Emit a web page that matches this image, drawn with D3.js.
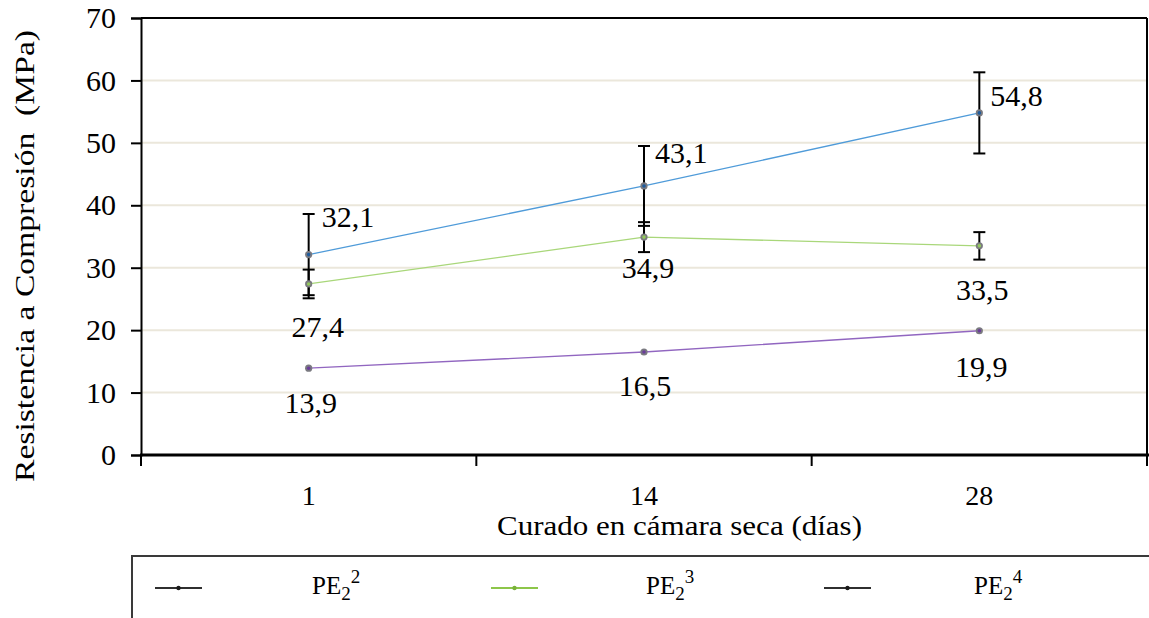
<!DOCTYPE html>
<html>
<head>
<meta charset="utf-8">
<script src="https://cdn.jsdelivr.net/npm/d3@7"></script>
<style>
  html, body { margin: 0; padding: 0; background: #fff; }
  svg { display: block; }
  svg text { font-family: "Liberation Serif", "Times New Roman", serif; }
</style>
</head>
<body>
<svg id="chart" width="1149" height="618"></svg>
<script>
// Curing age (days) in the dry chamber
const days = ["1", "14", "28"];

// Mean compressive strength (MPa) per mix
const pe22 = [32.1, 43.1, 54.8];
const pe23 = [27.4, 34.9, 33.5];
const pe24 = [13.9, 16.5, 19.9];

// Standard deviation (MPa) shown as error bars
const pe22Err = [6.5, 6.4, 6.5];
const pe23Err = [2.3, 2.4, 2.2];

const yTicks = [0, 10, 20, 30, 40, 50, 60, 70];
const legendNames = ["2", "3", "4"]; // superscript of PE₂ⁿ

const SERIF = "'Liberation Serif', 'Times New Roman', serif";
const svg = d3.select("#chart");
const W = 1149, H = 618;
const plot = { left: 141, right: 1147, top: 18, bottom: 455 };

const x = d3.scaleBand().domain(days).range([plot.left, plot.right]).padding(0);
const y = d3.scaleLinear().domain([0, 70]).range([plot.bottom, plot.top]);
const cx = d => x(d) + x.bandwidth() / 2;

const series = [
  { name: "PE2^2", values: pe22, err: pe22Err, line: "#4f9bd9", dot: "#1e5b9c" },
  { name: "PE2^3", values: pe23, err: pe23Err, line: "#a9d77a", dot: "#93c95c" },
  { name: "PE2^4", values: pe24, err: null,    line: "#9166c0", dot: "#6b3d9a" }
];

// horizontal gridlines
svg.append("g")
  .selectAll("line")
  .data(yTicks.filter(t => t > 0 && t < 70))
  .join("line")
  .attr("x1", plot.left).attr("x2", plot.right)
  .attr("y1", d => y(d)).attr("y2", d => y(d))
  .attr("stroke", "#ebe7db").attr("stroke-width", 2);

// frame: top and right edges
svg.append("line")
  .attr("x1", plot.left).attr("x2", plot.right)
  .attr("y1", plot.top).attr("y2", plot.top)
  .attr("stroke", "#000").attr("stroke-width", 2);
svg.append("line")
  .attr("x1", plot.right).attr("x2", plot.right)
  .attr("y1", plot.top).attr("y2", plot.bottom)
  .attr("stroke", "#000").attr("stroke-width", 2);

// y axis
const yAxis = svg.append("g")
  .attr("transform", `translate(${plot.left},0)`)
  .call(d3.axisLeft(y).tickValues(yTicks).tickSize(10).tickPadding(15).tickFormat(d3.format("d")));
yAxis.attr("font-family", SERIF).attr("font-size", 30);
yAxis.select(".domain").attr("stroke", "#000").attr("stroke-width", 2);
yAxis.selectAll(".tick line").attr("stroke", "#000").attr("stroke-width", 2);
yAxis.selectAll(".tick text").attr("fill", "#000");

// x axis: ticks on the category boundaries, labels in the middle
const xAxisG = svg.append("g").attr("transform", `translate(0,${plot.bottom})`);
xAxisG.append("line")
  .attr("x1", plot.left - 1).attr("x2", W)
  .attr("y1", 0).attr("y2", 0)
  .attr("stroke", "#000").attr("stroke-width", 3);
const boundaries = days.map(d => x(d)).concat([plot.right]);
xAxisG.selectAll("line.tick")
  .data(boundaries)
  .join("line")
  .attr("class", "tick")
  .attr("x1", d => d).attr("x2", d => d)
  .attr("y1", 0).attr("y2", 11)
  .attr("stroke", "#000").attr("stroke-width", 2);
xAxisG.selectAll("text")
  .data(days)
  .join("text")
  .attr("x", d => cx(d))
  .attr("y", 50)
  .attr("text-anchor", "middle")
  .attr("font-family", SERIF)
  .attr("font-size", 28)
  .text(d => d);

// axis titles
svg.append("text")
  .attr("x", 497).attr("y", 535)
  .attr("font-family", SERIF)
  .attr("font-size", 27)
  .attr("textLength", 365)
  .attr("lengthAdjust", "spacingAndGlyphs")
  .text("Curado en cámara seca (días)");
svg.append("text")
  .attr("transform", "translate(34,482) rotate(-90)")
  .attr("font-family", SERIF)
  .attr("font-size", 28)
  .attr("textLength", 452)
  .attr("lengthAdjust", "spacingAndGlyphs")
  .attr("xml:space", "preserve")
  .text("Resistencia a Compresión  (MPa)");

// lines
const lineGen = d3.line().x((v, i) => cx(days[i])).y(v => y(v));
svg.append("g")
  .selectAll("path")
  .data(series)
  .join("path")
  .attr("d", s => lineGen(s.values))
  .attr("fill", "none")
  .attr("stroke", s => s.line)
  .attr("stroke-width", 1.3);

// error bars
const capHalf = 6;
series.filter(s => s.err).forEach(s => {
  const g = svg.append("g").attr("stroke", "#000").attr("stroke-width", 2);
  s.values.forEach((v, i) => {
    const px = cx(days[i]);
    const top = y(v + s.err[i]), bot = y(v - s.err[i]);
    g.append("line").attr("x1", px).attr("x2", px).attr("y1", top).attr("y2", bot);
    g.append("line").attr("x1", px - capHalf).attr("x2", px + capHalf).attr("y1", top).attr("y2", top);
    g.append("line").attr("x1", px - capHalf).attr("x2", px + capHalf).attr("y1", bot).attr("y2", bot);
  });
});

// markers
series.forEach(s => {
  const g = svg.append("g");
  s.values.forEach((v, i) => {
    g.append("circle").attr("cx", cx(days[i])).attr("cy", y(v)).attr("r", 3.6).attr("fill", "#7a7a80");
    g.append("circle").attr("cx", cx(days[i])).attr("cy", y(v)).attr("r", 1.8).attr("fill", s.dot);
  });
});

// value labels, nudged away from the error bars
const labelNudge = [
  { anchor: "start",  dx: [13, 11, 11], dy: [-28, -23, -7] },
  { anchor: "middle", dx: [9, 4, 3],    dy: [53, 41, 54] },
  { anchor: "middle", dx: [2, 1, 2],    dy: [45, 44, 46] }
];
const fmt = v => d3.format(".1f")(v).replace(".", ",");
series.forEach((s, si) => {
  s.values.forEach((v, i) => {
    svg.append("text")
      .attr("x", cx(days[i]) + labelNudge[si].dx[i])
      .attr("y", y(v) + labelNudge[si].dy[i])
      .attr("text-anchor", labelNudge[si].anchor)
      .attr("font-family", SERIF)
      .attr("font-size", 30)
      .text(fmt(v));
  });
});

// legend box (runs off the bottom/right edge)
const lg = svg.append("g");
lg.append("rect")
  .attr("x", 132).attr("y", 556)
  .attr("width", 1040).attr("height", 100)
  .attr("fill", "#fff").attr("stroke", "#3a3a3a").attr("stroke-width", 2);

const legendSym = [
  { x: 155, color: "#2f2f2f", dot: "#1a1a1a" },
  { x: 491, color: "#8dc64a", dot: "#7ab23a" },
  { x: 824, color: "#2f2f2f", dot: "#1a1a1a" }
];
const legendTextX = [312, 646, 974];
legendNames.forEach((n, i) => {
  const sx = legendSym[i].x;
  lg.append("line")
    .attr("x1", sx).attr("x2", sx + 47)
    .attr("y1", 588).attr("y2", 588)
    .attr("stroke", legendSym[i].color).attr("stroke-width", 2);
  lg.append("circle").attr("cx", sx + 23.5).attr("cy", 588).attr("r", 2.2).attr("fill", legendSym[i].dot);
  const t = lg.append("text")
    .attr("x", legendTextX[i]).attr("y", 594)
    .attr("font-family", SERIF)
    .attr("font-size", 25);
  t.append("tspan").text("PE");
  t.append("tspan").attr("font-size", 19).attr("dy", 6).text("2");
  t.append("tspan").attr("font-size", 19).attr("dy", -17).text(n);
});
</script>
</body>
</html>
